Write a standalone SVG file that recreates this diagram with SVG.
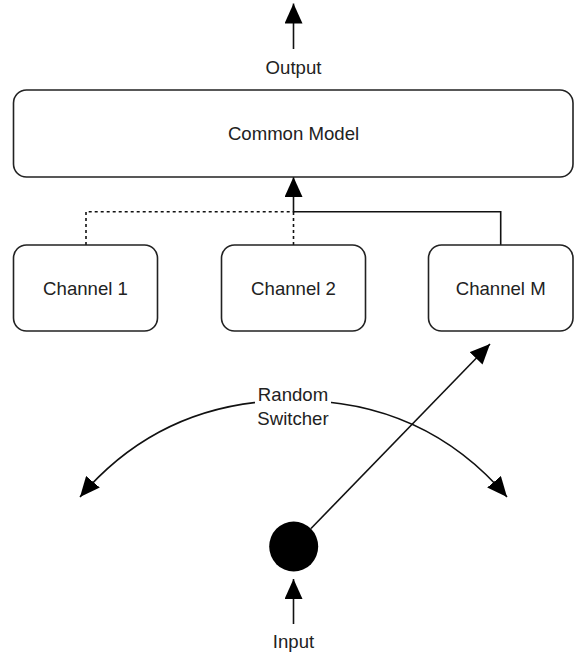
<svg xmlns="http://www.w3.org/2000/svg" width="575" height="655" viewBox="0 0 575 655">
<style>
.box{fill:#fff;stroke:#222;stroke-width:1.6}
.lbl{font-family:"Liberation Sans",Arial,sans-serif;font-size:18.6px;fill:#222;text-anchor:middle}
.ln{fill:none;stroke:#111;stroke-width:1.6}
.dot{fill:none;stroke:#111;stroke-width:1.6;stroke-dasharray:3 3}
</style>
<defs>
<marker id="ah" markerUnits="userSpaceOnUse" viewBox="0 0 20 18" markerWidth="20" markerHeight="18" refX="20" refY="9" orient="auto">
<path d="M0,0 L20,9 L0,18 Z" fill="#000"/>
</marker>
</defs>
<rect width="575" height="655" fill="#fff"/>
<g id="connectors">
<line class="ln" x1="293.5" y1="49" x2="293.5" y2="3.5" marker-end="url(#ah)"/>
<path class="dot" d="M86,245 V211.7 H293.5 M293.5,245 V211.7"/>
<path class="ln" d="M500.7,245 V211.7 H293.5"/>
<line class="ln" x1="293.5" y1="212.5" x2="293.5" y2="177" marker-end="url(#ah)"/>
<line class="ln" x1="311" y1="528.5" x2="490" y2="344" marker-end="url(#ah)"/>
<path class="ln" d="M293.5,400.3 C 185,400.3 120,450 80,497" marker-end="url(#ah)"/>
<path class="ln" d="M293.5,400.3 C 402,400.3 467,450 507,497" marker-end="url(#ah)"/>
<line class="ln" x1="293.5" y1="624" x2="293.5" y2="579" marker-end="url(#ah)"/>
</g>
<g id="output-label"><text class="lbl" x="293.5" y="74">Output</text></g>
<g id="common-model">
<rect class="box" x="13.5" y="90" width="559.5" height="87" rx="13"/>
<text class="lbl" x="293.5" y="140">Common Model</text>
</g>
<g id="channel-1">
<rect class="box" x="13.5" y="245" width="144" height="86" rx="13"/>
<text class="lbl" x="85.5" y="295">Channel 1</text>
</g>
<g id="channel-2">
<rect class="box" x="221.5" y="245" width="144" height="86" rx="13"/>
<text class="lbl" x="293.5" y="295">Channel 2</text>
</g>
<g id="channel-m">
<rect class="box" x="428.5" y="245" width="144.5" height="86" rx="13"/>
<text class="lbl" x="500.7" y="295">Channel M</text>
</g>
<g id="random-switcher">
<rect x="255" y="384" width="76" height="46" fill="#fff"/>
<text class="lbl" x="293" y="401">Random</text>
<text class="lbl" x="293" y="424.5">Switcher</text>
</g>
<g id="switch-node">
<ellipse cx="293.7" cy="546.5" rx="24.5" ry="25" fill="#000"/>
</g>
<g id="input-label"><text class="lbl" x="293.5" y="648">Input</text></g>
</svg>
